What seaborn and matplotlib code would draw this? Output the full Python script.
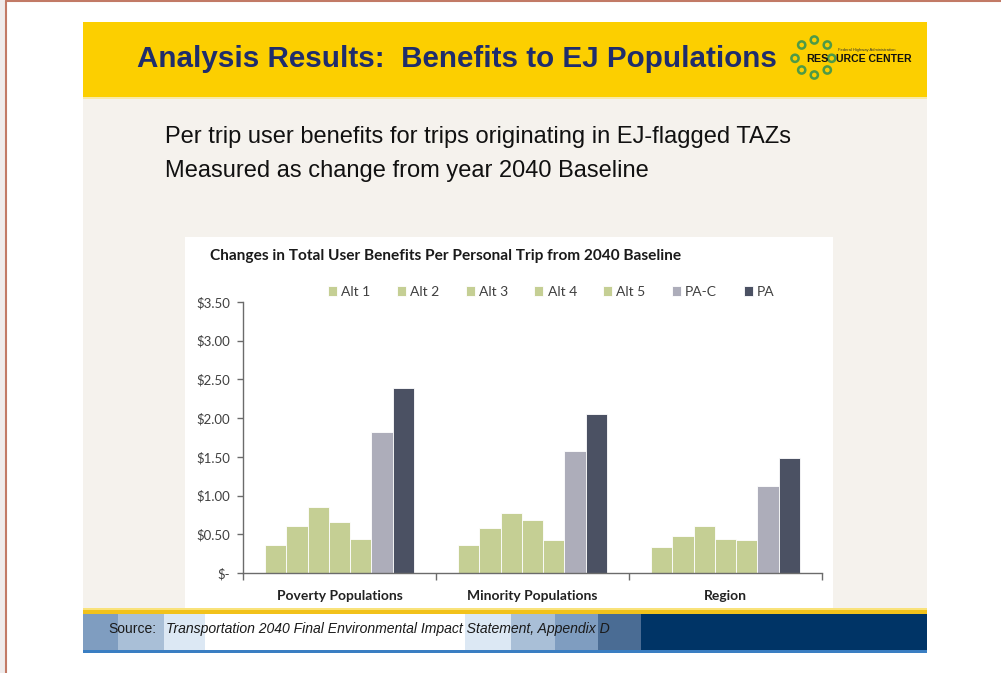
import numpy as np
import pandas as pd
import matplotlib
matplotlib.use("Agg")
import matplotlib.pyplot as plt
from matplotlib.patches import Rectangle, Circle
import seaborn as sns

# chart data
groups = ["Poverty Populations", "Minority Populations", "Region"]
series = ["Alt 1", "Alt 2", "Alt 3", "Alt 4", "Alt 5", "PA-C", "PA"]
poverty = [0.36, 0.61, 0.85, 0.66, 0.44, 1.82, 2.39]
minority = [0.36, 0.58, 0.77, 0.68, 0.42, 1.58, 2.05]
region = [0.33, 0.48, 0.61, 0.44, 0.42, 1.12, 1.48]
y_ticks = [0, 0.5, 1.0, 1.5, 2.0, 2.5, 3.0, 3.5]
y_tick_labels = ["$-", "$0.50", "$1.00", "$1.50", "$2.00", "$2.50", "$3.00", "$3.50"]

colors = ["#c5cf94"] * 5 + ["#adadba", "#4b5163"]

rows = []
for g, vals in zip(groups, [poverty, minority, region]):
    for s, v in zip(series, vals):
        rows.append({"group": g, "series": s, "value": v})
df = pd.DataFrame(rows)

sns.set_style("white")
plt.rcParams["font.family"] = ["Liberation Sans", "DejaVu Sans"]

W, H = 1001, 673
fig = plt.figure(figsize=(W / 100, H / 100), dpi=100)

# background axis in pixel coords for the slide decoration
bg = fig.add_axes([0, 0, 1, 1])
bg.set_xlim(0, W)
bg.set_ylim(H, 0)
bg.axis("off")

bg.add_patch(Rectangle((0, 0), 6, H, color="#efebeb", lw=0))
bg.plot([6, 6], [1, H], color="#c27a66", lw=1.5)
bg.plot([6, W], [1, 1], color="#c27a66", lw=1.5)

# slide header / body / footer
bg.add_patch(Rectangle((83, 22), 844, 76, color="#fccf00", lw=0))
bg.add_patch(Rectangle((83, 98), 844, 512, color="#f5f2ed", lw=0))
bg.add_patch(Rectangle((83, 97), 844, 2, color="#f8e9a8", lw=0))
bg.add_patch(Rectangle((185, 237), 648, 373, color="white", lw=0))
bg.add_patch(Rectangle((83, 608), 844, 3, color="#f9e27a", lw=0))
bg.add_patch(Rectangle((83, 610), 844, 4, color="#f2c21a", lw=0))
bg.add_patch(Rectangle((83, 614), 844, 37, color="#003466", lw=0))
bg.add_patch(Rectangle((83, 650), 844, 3, color="#3a7ec2", lw=0))
blocks = [(83, 118, "#7f9dc0"), (118, 164, "#a9bfd7"), (164, 205, "#dce8f4"),
          (205, 465, "#ffffff"), (465, 511, "#dce8f4"), (511, 555, "#a9bfd7"),
          (555, 598, "#7f9dc0"), (598, 641, "#4a6c94")]
for x0, x1, c in blocks:
    bg.add_patch(Rectangle((x0, 614), x1 - x0, 36, color=c, lw=0))

bg.text(137, 59, "Analysis Results:  Benefits to EJ Populations", fontsize=21.3,
        fontweight="bold", color="#1f2d6c", va="center", ha="left")
bg.text(165, 137, "Per trip user benefits for trips originating in EJ-flagged TAZs",
        fontsize=17, color="#111111", va="center", ha="left")
bg.text(165, 171, "Measured as change from year 2040 Baseline",
        fontsize=17, color="#111111", va="center", ha="left")
bg.text(108, 629, "Source:", fontsize=10, color="#1a1a1a", va="center", ha="left")
bg.text(166, 629, "Transportation 2040 Final Environmental Impact Statement, Appendix D",
        fontsize=10.1, style="italic", color="#1a1a1a", va="center", ha="left")

# resource center logo
ring = [(801.7, 45), (814.3, 40), (827.3, 45), (795, 58.3), (831.7, 58.3),
        (801.7, 70), (814.3, 75), (827.3, 70)]
for cx, cy in ring:
    bg.add_patch(Circle((cx, cy), 3.6, facecolor="none", edgecolor="#4e9a47", lw=1.8))
bg.text(806, 58.5, "RES", fontsize=7.8, fontweight="bold", color="#111111",
        va="center", ha="left")
bg.text(836, 58.5, "URCE CENTER", fontsize=7.6, fontweight="bold", color="#111111",
        va="center", ha="left")
bg.text(838, 50, "Federal Highway Administration", fontsize=3, color="#333333",
        va="center", ha="left")

# chart
ax = fig.add_axes([243 / W, 1 - 573 / H, (822 - 243) / W, (573 - 302) / H])
ax.set_facecolor("none")
sns.barplot(data=df, x="group", y="value", hue="series", palette=colors,
            width=0.77, gap=0, saturation=1, edgecolor="white", linewidth=0.6,
            ax=ax)
ax.set_xlim(-0.5, 2.5)
ax.set_ylim(0, 3.5)
ax.set_xlabel("")
ax.set_ylabel("")
ax.set_yticks(y_ticks)
ax.set_yticklabels(y_tick_labels)
for s in ["top", "right"]:
    ax.spines[s].set_visible(False)
for s in ["left", "bottom"]:
    ax.spines[s].set_color("#6b6b6b")
    ax.spines[s].set_linewidth(1)
ax.tick_params(axis="y", left=True, length=4, width=1, color="#6b6b6b",
               labelsize=9.5, labelcolor="#404040", pad=5)
ax.tick_params(axis="x", bottom=False, labelsize=10, labelcolor="#222222", pad=9)
ax.set_xticks([-0.5, 0.5, 1.5, 2.5], minor=True)
ax.tick_params(axis="x", which="minor", bottom=True, length=5, width=1, color="#6b6b6b")
for lab in ax.get_yticklabels():
    lab.set_fontfamily("Lato")
for lab in ax.get_xticklabels():
    lab.set_fontfamily("Lato")
    lab.set_fontweight("bold")

handles, labels = ax.get_legend_handles_labels()
ax.legend(handles, labels, ncol=7, frameon=False, loc="center left",
          bbox_to_anchor=(328 / W, 1 - 292 / H), bbox_transform=fig.transFigure,
          borderaxespad=0, borderpad=0, handlelength=0.65, handleheight=0.65,
          handletextpad=0.3, columnspacing=1.9,
          prop={"family": "Lato", "size": 10})
for t in ax.get_legend().get_texts():
    t.set_color("#404040")

fig.text(210 / W, 1 - 256 / H,
         "Changes in Total User Benefits Per Personal Trip from 2040 Baseline",
         fontsize=11.1, fontweight="bold", family="Lato", color="#1a1a1a",
         va="center", ha="left")

fig.savefig("out.png", dpi=100)
